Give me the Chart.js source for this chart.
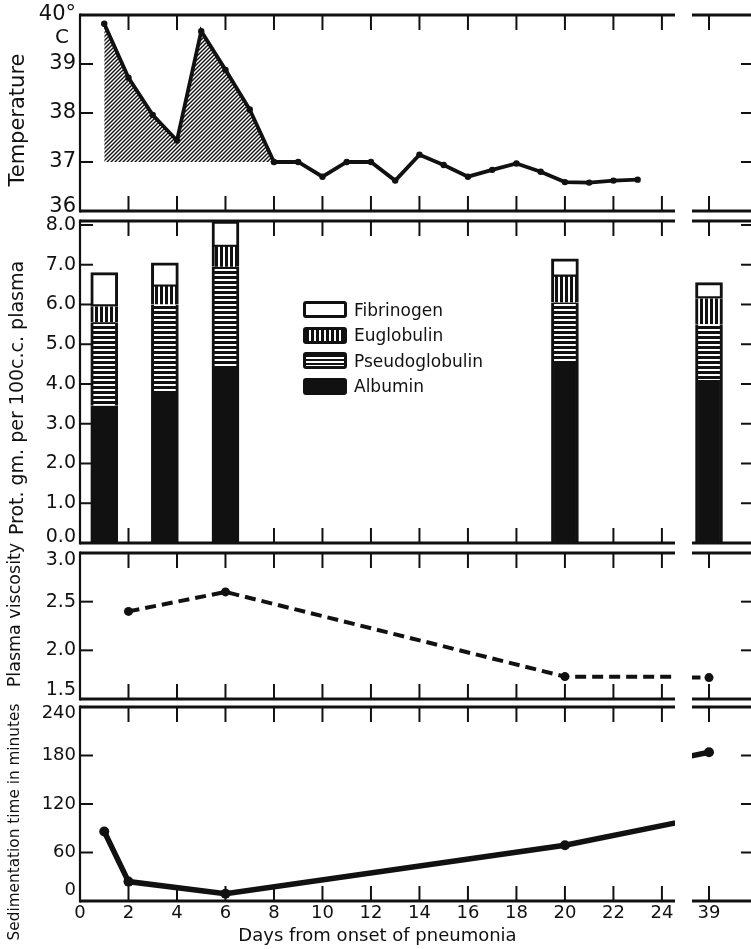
<!DOCTYPE html>
<html>
<head>
<meta charset="utf-8">
<script src="https://cdn.jsdelivr.net/npm/chart.js@4.4.0/dist/chart.umd.min.js"></script>
<style>
  body { margin: 0; background: #fff; }
  #wrap { position: relative; width: 751px; height: 949px; overflow: hidden; background: #fff; }
  #wrap canvas { position: absolute; }
  #legend { position: absolute; left: 303px; top: 297px; font: 17px "DejaVu Sans", sans-serif; color: #111; }
  #legend .row { display: flex; align-items: center; height: 25.5px; }
  #legend .box { width: 38px; height: 11px; border: 3px solid #111; border-radius: 3px; margin-right: 7px; }
  .ytitle { position: absolute; font-family: "DejaVu Sans", sans-serif; color: #111; white-space: nowrap;
    transform: translate(-50%, -50%) rotate(-90deg); line-height: 1; }
</style>
</head>
<body>
<div id="wrap">
  <div id="legend"></div>
</div>
<script>
// ---- data ----
const tempDays = [1, 2, 3, 4, 5, 6, 7, 8, 9, 10, 11, 12, 13, 14, 15, 16, 17, 18, 19, 20, 21, 22, 23];
const tempValues = [39.82, 38.72, 37.96, 37.44, 39.67, 38.88, 38.07, 37.0, 37.0, 36.7, 37.0, 37.0,
  36.62, 37.15, 36.94, 36.7, 36.84, 36.97, 36.8, 36.59, 36.58, 36.62, 36.64];
const feverDays = [1, 2, 3, 4, 5, 6, 7, 8];
const feverValues = [39.82, 38.72, 37.96, 37.44, 39.67, 38.88, 38.07, 37.0];

const proteinDays = [1, 3.5, 6, 20, 39];
const albumin = [3.45, 3.75, 4.4, 4.5, 4.1];
const pseudoglobulin = [2.1, 2.25, 2.55, 1.55, 1.4];
const euglobulin = [0.4, 0.45, 0.5, 0.65, 0.65];
const fibrinogen = [0.85, 0.6, 0.65, 0.45, 0.4];
const proteinLabels = ["Fibrinogen", "Euglobulin", "Pseudoglobulin", "Albumin"];

const viscosityDays = [2, 6, 20, 39];
const viscosity = [2.4, 2.6, 1.73, 1.72];

const sedDays = [1, 2, 6, 20, 39];
const sedimentation = [86, 24, 9, 69, 184];

const dayTicks = [0, 2, 4, 6, 8, 10, 12, 14, 16, 18, 20, 22, 24];
const lateDayTicks = [39];
const tempTicks = [36, 37, 38, 39, 40];
const proteinTicks = [0, 1, 2, 3, 4, 5, 6, 7, 8];
const viscosityTicks = [1.5, 2.0, 2.5, 3.0];
const sedTicks = [0, 60, 120, 180, 240];

// ---- layout ----
const FONT = "'DejaVu Sans', sans-serif";
const INK = "#111";
const PAD = 30;
const mainRange = [0, 24.54];
const lateRange = [38.3, 40.77];

// patterns
function makePattern(w, h, draw) {
  const c = document.createElement("canvas");
  c.width = w; c.height = h;
  const g = c.getContext("2d");
  draw(g, w, h);
  return g.createPattern(c, "repeat");
}
const hatch = makePattern(4, 4, (g) => {
  g.strokeStyle = INK; g.lineWidth = 1.4;
  g.beginPath();
  g.moveTo(0, 4); g.lineTo(4, 0);
  g.moveTo(-1, 1); g.lineTo(1, -1);
  g.moveTo(3, 5); g.lineTo(5, 3);
  g.stroke();
});
const hStripes = makePattern(4, 5, (g) => {
  g.fillStyle = INK; g.fillRect(0, 0, 4, 5);
  g.fillStyle = "#fff"; g.fillRect(0, 3, 4, 2);
});
const vStripes = makePattern(5, 4, (g) => {
  g.fillStyle = INK; g.fillRect(0, 0, 5, 4);
  g.fillStyle = "#fff"; g.fillRect(3, 0, 2, 4);
});

// frame + inward ticks
const framePlugin = {
  id: "frame",
  beforeDatasetsDraw(chart, args, opts) {
    const { ctx, chartArea: a, scales: { x, y } } = chart;
    const line = (x1, y1, x2, y2) => { ctx.beginPath(); ctx.moveTo(x1, y1); ctx.lineTo(x2, y2); ctx.stroke(); };
    ctx.save();
    ctx.strokeStyle = INK;
    ctx.lineWidth = 2;
    x.ticks.forEach((t) => {
      const px = x.getPixelForValue(t.value);
      if (px <= a.left + 2 || px >= a.right - 2) return;
      line(px, a.top, px, a.top + 15);
      line(px, a.bottom, px, a.bottom - 15);
    });
    y.ticks.forEach((t) => {
      const py = y.getPixelForValue(t.value);
      if (py <= a.top + 2 || py >= a.bottom - 2) return;
      if (opts.left) line(a.left, py, a.left + 13, py);
      else line(a.right - 11, py, a.right, py);
    });
    ctx.restore();
  },
  afterDatasetsDraw(chart, args, opts) {
    const { ctx, chartArea: a } = chart;
    ctx.save();
    ctx.strokeStyle = INK;
    ctx.lineWidth = 3;
    ctx.beginPath();
    ctx.moveTo(a.left, a.top); ctx.lineTo(a.right, a.top);
    ctx.moveTo(a.left, a.bottom); ctx.lineTo(a.right, a.bottom);
    ctx.stroke();
    if (opts.left) {
      ctx.lineWidth = 2.2;
      ctx.beginPath(); ctx.moveTo(a.left, a.top - 1.5); ctx.lineTo(a.left, a.bottom + 1.5); ctx.stroke();
    }
    ctx.restore();
  },
};

const unitPlugin = {
  id: "unit",
  afterDraw(chart, args, opts) {
    if (!opts.text) return;
    const { ctx, scales: { y } } = chart;
    ctx.save();
    ctx.fillStyle = INK;
    ctx.font = "20px " + FONT;
    ctx.textAlign = "center";
    ctx.textBaseline = "middle";
    ctx.fillText(opts.text, 62, y.getPixelForValue(40) + 23);
    ctx.restore();
  },
};

// shiftTop / shiftBottom: the end labels sit a little inside the frame in the figure
const panels = [
  { top: 15, bottom: 211, yMin: 36, yMax: 40, yTicks: tempTicks, title: "Temperature",
    tickSize: 21, titleSize: 21, titleX: 17, titleY: 120, shiftTop: 0, shiftBottom: 4,
    fmt: (v) => (v === 40 ? "40°" : String(v)) },
  { top: 221, bottom: 543, yMin: 0, yMax: 8.1, yTicks: proteinTicks, title: "Prot. gm. per 100c.c. plasma",
    tickSize: 19, titleSize: 19, titleX: 16, titleY: 398, shiftTop: 0, shiftBottom: 6,
    fmt: (v) => v.toFixed(1), bars: true },
  { top: 553, bottom: 699, yMin: 1.5, yMax: 3.0, yTicks: viscosityTicks, title: "Plasma viscosity",
    tickSize: 19, titleSize: 17.5, titleX: 15, titleY: 615, shiftTop: 7, shiftBottom: 9,
    fmt: (v) => v.toFixed(1) },
  { top: 707, bottom: 901, yMin: 0, yMax: 240, yTicks: sedTicks, title: "Sedimentation time in minutes",
    tickSize: 18, titleSize: 15.3, titleX: 15, titleY: 822, shiftTop: 6, shiftBottom: 11,
    fmt: (v) => String(v), bottomAxis: true },
];

const pts = (xs, ys) => xs.map((d, i) => ({ x: d, y: ys[i] }));

function datasetsFor(idx) {
  if (idx === 0) {
    return [
      { type: "line", data: pts(tempDays, tempValues), borderColor: INK, borderWidth: 3.8,
        pointRadius: 3.2, pointBackgroundColor: INK, pointBorderWidth: 0, tension: 0, order: 0 },
      { type: "line", data: pts(feverDays, feverValues), fill: { value: 37 }, backgroundColor: hatch,
        borderWidth: 0, pointRadius: 0, tension: 0, order: 1 },
    ];
  }
  if (idx === 1) {
    const bar = (vals, bg, bw) => ({
      type: "bar", data: pts(proteinDays, vals), backgroundColor: bg, borderColor: INK,
      borderWidth: bw, borderSkipped: false, barThickness: 27,
    });
    return [
      bar(albumin, INK, { left: 3, right: 3, top: 0, bottom: 0 }),
      bar(pseudoglobulin, hStripes, { left: 3, right: 3, top: 0, bottom: 0 }),
      bar(euglobulin, vStripes, { left: 3, right: 3, top: 0, bottom: 0 }),
      bar(fibrinogen, "#fff", { left: 3, right: 3, top: 3, bottom: 2.5 }),
    ];
  }
  if (idx === 2) {
    return [{ type: "line", data: pts(viscosityDays, viscosity), borderColor: INK, borderWidth: 4,
      borderDash: [11, 6], pointRadius: 4.5, pointBackgroundColor: INK, pointBorderWidth: 0, tension: 0 }];
  }
  return [{ type: "line", data: pts(sedDays, sedimentation), borderColor: INK, borderWidth: 5.5,
    pointRadius: 5, pointBackgroundColor: INK, pointBorderWidth: 0, tension: 0 }];
}

const wrap = document.getElementById("wrap");

function makePanel(idx, isMain) {
  const p = panels[idx];
  const cv = document.createElement("canvas");
  const left = isMain ? 0 : 680;
  const width = isMain ? 700 : 80;
  const top = p.top - PAD;
  const height = p.bottomAxis ? 949 - top : p.bottom - p.top + 2 * PAD;
  cv.width = width; cv.height = height;
  cv.style.left = left + "px"; cv.style.top = top + "px";
  cv.style.width = width + "px"; cv.style.height = height + "px";
  wrap.insertBefore(cv, document.getElementById("legend"));

  const range = isMain ? mainRange : lateRange;
  const xTickVals = isMain ? dayTicks : lateDayTicks;
  const showX = !!p.bottomAxis;
  const nY = p.yTicks.length;

  new Chart(cv, {
    type: p.bars ? "bar" : "line",
    data: { datasets: datasetsFor(idx) },
    plugins: [framePlugin, unitPlugin],
    options: {
      responsive: false,
      animation: false,
      events: [],
      layout: { padding: { top: PAD, bottom: showX ? 0 : PAD, left: isMain ? 0 : 12, right: isMain ? 25 : 8 } },
      plugins: {
        legend: { display: false },
        tooltip: { enabled: false },
        frame: { left: isMain },
        unit: { text: isMain && idx === 0 ? "C" : "" },
      },
      scales: {
        x: {
          type: "linear", min: range[0], max: range[1], stacked: !!p.bars, offset: false,
          afterBuildTicks: (s) => { s.ticks = xTickVals.map((v) => ({ value: v })); },
          grid: { display: false, drawTicks: false, offset: false },
          border: { display: false },
          ticks: { display: showX, color: INK, font: { family: FONT, size: 18 }, padding: 2,
            maxRotation: 0, autoSkip: false, callback: (v) => String(v) },
          title: { display: showX && isMain, text: "Days from onset of pneumonia", color: INK,
            font: { family: FONT, size: 18 }, padding: { top: 0, bottom: 2 } },
          afterFit: (s) => { s.height = showX ? 48 : 0; },
        },
        y: {
          type: "linear", min: p.yMin, max: p.yMax, position: isMain ? "left" : "right",
          stacked: !!p.bars,
          afterBuildTicks: (s) => { s.ticks = p.yTicks.map((v) => ({ value: v })); },
          grid: { display: false, drawTicks: false },
          border: { display: false },
          ticks: {
            display: isMain, color: INK, padding: 4,
            font: (c) => {
              let lh = 1.2;
              if (c.index === 0 && p.shiftBottom) lh = 2 * p.shiftBottom + "px";
              if (c.index === nY - 1 && p.shiftTop) lh = 2 * p.shiftTop + "px";
              return { family: FONT, size: p.tickSize, lineHeight: lh };
            },
            callback: (v, i) => {
              const s = p.fmt(v);
              if (i === 0 && p.shiftBottom) return [s, ""];
              if (i === nY - 1 && p.shiftTop) return ["", s];
              return s;
            },
          },
          title: { display: false },
          afterFit: (s) => { s.width = isMain ? 80 : 0; },
        },
      },
    },
  });

  // axis title, placed where the figure has it (it runs past the frame in places)
  if (isMain) {
    const t = document.createElement("div");
    t.className = "ytitle";
    t.textContent = p.title;
    t.style.left = p.titleX + "px";
    t.style.top = p.titleY + "px";
    t.style.fontSize = p.titleSize + "px";
    wrap.appendChild(t);
  }
}

for (let i = 0; i < panels.length; i++) {
  makePanel(i, true);
  makePanel(i, false);
}

// legend (top entry first, like the figure)
const legendFills = {
  Fibrinogen: "#fff",
  Euglobulin: "repeating-linear-gradient(90deg, #111 0 3px, #fff 3px 5px)",
  Pseudoglobulin: "repeating-linear-gradient(180deg, #111 0 2px, #fff 2px 4px)",
  Albumin: "#111",
};
const legend = document.getElementById("legend");
proteinLabels.forEach((name) => {
  const row = document.createElement("div");
  row.className = "row";
  const box = document.createElement("div");
  box.className = "box";
  box.style.background = legendFills[name];
  const txt = document.createElement("span");
  txt.textContent = name;
  row.appendChild(box);
  row.appendChild(txt);
  legend.appendChild(row);
});
</script>
</body>
</html>
